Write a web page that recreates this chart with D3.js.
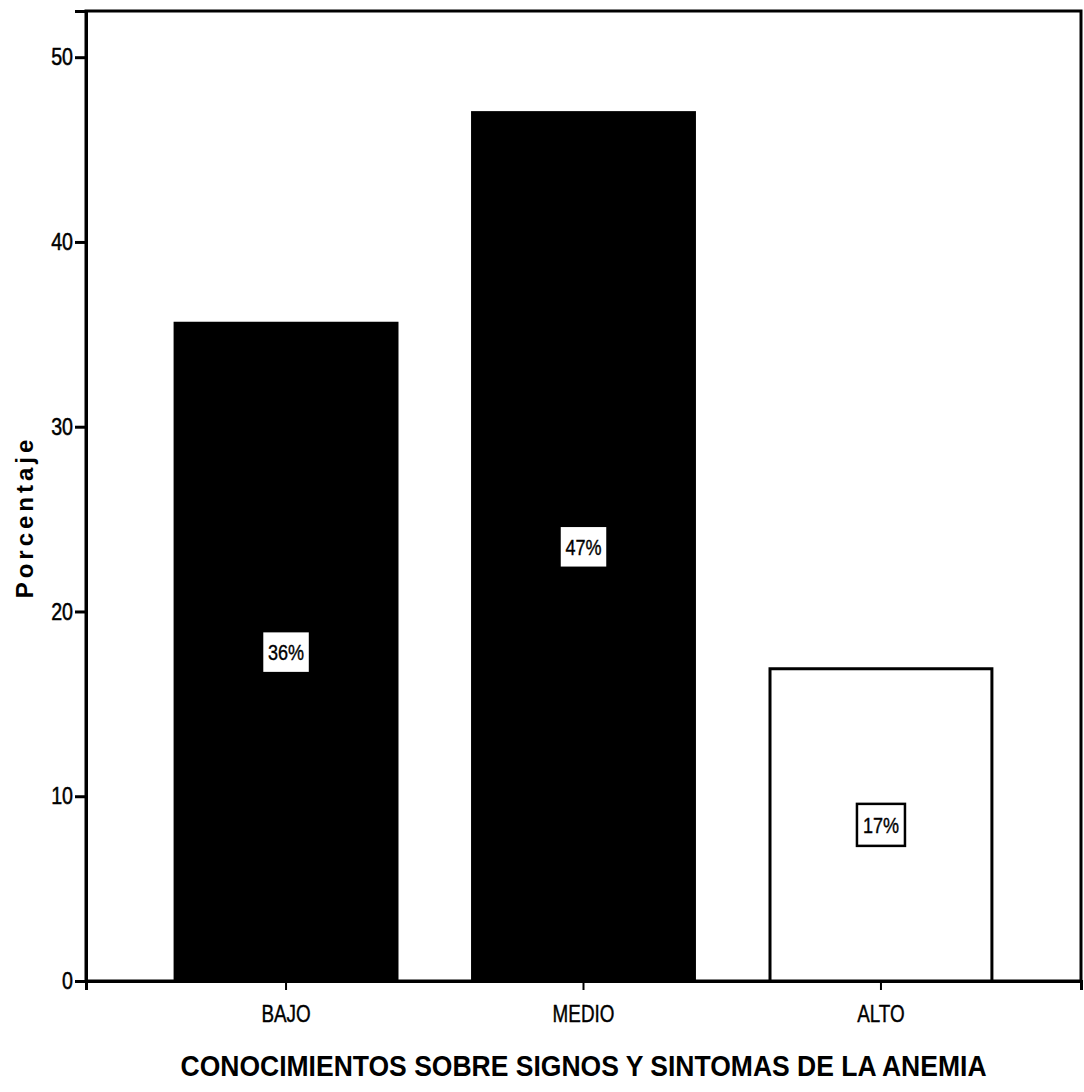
<!DOCTYPE html>
<html>
<head>
<meta charset="utf-8">
<script src="https://cdn.jsdelivr.net/npm/d3@7"></script>
<style>
  html, body { margin: 0; padding: 0; background: #fff; }
  svg { display: block; }
  text { font-family: 'Liberation Sans', Arial, sans-serif; }
</style>
</head>
<body>
<svg id="chart" width="1084" height="1092"></svg>
<script>
// Nivel de conocimientos (porcentaje de encuestados)
const categories = ["BAJO", "MEDIO", "ALTO"];
const percentages = [35.6, 47.0, 16.9];
const barFills = ["#000000", "#000000", "#ffffff"];
const yTicks = [0, 10, 20, 30, 40, 50];
const xTitle = "CONOCIMIENTOS SOBRE SIGNOS Y SINTOMAS DE LA ANEMIA";
const yTitle = "Porcentaje";

const NARROW = 0.82; // horizontal squeeze that imitates a condensed face

const svg = d3.select("#chart");
const frame = { left: 86, right: 1081, top: 11, bottom: 981 };

const x = d3.scaleBand()
  .domain(categories)
  .range([frame.left, frame.right])
  .paddingInner(0.254)
  .paddingOuter(0.2995);

const y = d3.scaleLinear()
  .domain([0, 52.5])
  .range([frame.bottom, frame.top]);

// plot frame
svg.append("rect")
  .attr("x", frame.left).attr("y", frame.top)
  .attr("width", frame.right - frame.left)
  .attr("height", frame.bottom - frame.top)
  .attr("fill", "none").attr("stroke", "#000").attr("stroke-width", 3);

// bars
const data = categories.map((c, i) => ({ cat: c, value: percentages[i], fill: barFills[i] }));
svg.append("g").selectAll("rect").data(data).join("rect")
  .attr("x", d => x(d.cat))
  .attr("y", d => y(d.value))
  .attr("width", x.bandwidth())
  .attr("height", d => y(0) - y(d.value))
  .attr("fill", d => d.fill)
  .attr("stroke", "#000").attr("stroke-width", 3);

// y axis
const yAxis = d3.axisLeft(y).tickValues(yTicks).tickSize(11).tickPadding(2).tickFormat(d3.format("d"));
const gy = svg.append("g").attr("transform", `translate(${frame.left},0)`).call(yAxis);
gy.select(".domain").attr("stroke-width", 3);
gy.selectAll(".tick line").attr("stroke-width", 3);
gy.selectAll(".tick text")
  .attr("x", -13 / NARROW)
  .attr("transform", `scale(${NARROW},1)`)
  .attr("font-size", 24).attr("fill", "#000")
  .attr("stroke", "#000").attr("stroke-width", 0.5)
  .attr("font-family", "'Liberation Sans', Arial, sans-serif");

// x axis
const xAxis = d3.axisBottom(x).tickSize(9).tickPadding(16);
const gx = svg.append("g").attr("transform", `translate(0,${frame.bottom})`).call(xAxis);
gx.select(".domain").attr("stroke-width", 3);
gx.selectAll(".tick line").attr("stroke-width", 2);
gx.selectAll(".tick text")
  .attr("transform", `scale(${NARROW},1)`)
  .attr("font-size", 23).attr("fill", "#000")
  .attr("stroke", "#000").attr("stroke-width", 0.4)
  .attr("font-family", "'Liberation Sans', Arial, sans-serif");

// value labels in boxed white tags at mid-height of each bar
const fmt = v => d3.format(".0f")(v) + "%";
const tags = svg.append("g").selectAll("g").data(data).join("g")
  .attr("transform", d => `translate(${x(d.cat) + x.bandwidth() / 2},${y(d.value / 2)})`);
tags.append("rect")
  .attr("x", -24).attr("y", -21).attr("width", 48).attr("height", 42)
  .attr("fill", "#fff").attr("stroke", "#000").attr("stroke-width", 2.5);
tags.append("text")
  .attr("transform", `scale(${NARROW},1)`)
  .attr("text-anchor", "middle").attr("dy", "0.36em")
  .attr("font-size", 22).attr("fill", "#000")
  .attr("stroke", "#000").attr("stroke-width", 0.4)
  .text(d => fmt(d.value));

// axis titles
svg.append("g")
  .attr("transform", `translate(${(frame.left + frame.right) / 2},1076) scale(0.884,1)`)
  .append("text")
  .attr("text-anchor", "middle")
  .attr("font-size", 30).attr("font-weight", "bold")
  .text(xTitle);

svg.append("text")
  .attr("transform", `translate(33,517) rotate(-90)`)
  .attr("text-anchor", "middle")
  .attr("font-size", 24).attr("font-weight", "bold")
  .attr("letter-spacing", 4)
  .text(yTitle);
</script>
</body>
</html>
